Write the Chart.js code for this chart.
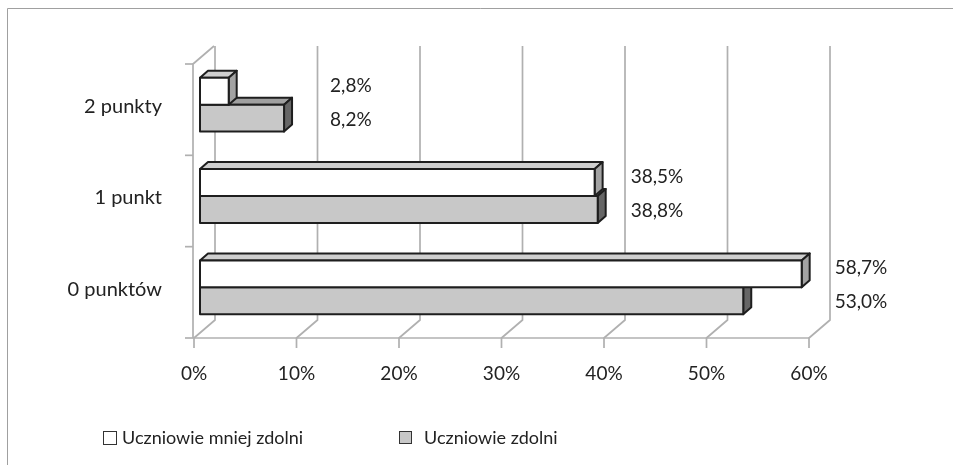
<!DOCTYPE html>
<html>
<head>
<meta charset="utf-8">
<script src="https://cdn.jsdelivr.net/npm/chart.js@4.4.1/dist/chart.umd.min.js"></script>
<style>
html,body{margin:0;padding:0;background:#fff;}
canvas{display:block;}
</style>
</head>
<body>
<canvas id="c" width="953" height="465"></canvas>
<script>
// ---- data ----
const categories = ['2 punkty', '1 punkt', '0 punktów'];
const seriesNames = ['Uczniowie mniej zdolni', 'Uczniowie zdolni'];
const lessAble = [2.8, 38.5, 58.7];
const able = [8.2, 38.8, 53.0];
const xMin = 0, xMax = 60, xStep = 10;

// ---- style ----
const FONT = 'Lato';
const TEXT = '#222222';
const GRID = '#b0b0b0';
const EDGE = '#1e1e1e';
const FRONT = {x: 6, y: -5};
const DEPTH = {x: 8, y: -7};
const WALL = {x: 21, y: -18};
const faces = [
  {front: '#ffffff', top: '#cfcfcf', side: '#a3a3a3'},
  {front: '#c8c8c8', top: '#a0a0a0', side: '#666666'}
];

function fmt(v) { return v.toFixed(1).replace('.', ',') + '%'; }

const threeD = {
  id: 'threeD',
  beforeDraw(chart) {
    const ctx = chart.ctx, ca = chart.chartArea, xs = chart.scales.x;
    ctx.save();
    ctx.fillStyle = '#fff';
    ctx.fillRect(0, 0, chart.width, chart.height);
    // outer frame
    ctx.strokeStyle = '#a0a0a0';
    ctx.lineWidth = 1;
    ctx.beginPath();
    ctx.moveTo(7.5, chart.height);
    ctx.lineTo(7.5, 8.5);
    ctx.lineTo(chart.width, 8.5);
    ctx.stroke();
    // walls and gridlines
    ctx.strokeStyle = GRID;
    ctx.lineWidth = 1.7;
    xs.ticks.forEach(t => {
      const px = xs.getPixelForValue(t.value);
      ctx.beginPath();
      ctx.moveTo(px + WALL.x, ca.top + WALL.y);
      ctx.lineTo(px + WALL.x, ca.bottom + WALL.y);
      ctx.lineTo(px, ca.bottom);
      ctx.lineTo(px, ca.bottom + 10);
      ctx.stroke();
    });
    // floor front edge
    ctx.beginPath();
    ctx.moveTo(ca.left - 1, ca.bottom);
    ctx.lineTo(xs.getPixelForValue(xMax), ca.bottom);
    ctx.stroke();
    // left wall front edge
    ctx.beginPath();
    ctx.moveTo(ca.left - 1, ca.bottom);
    ctx.lineTo(ca.left - 1, ca.top);
    ctx.lineTo(ca.left - 1 + WALL.x, ca.top + WALL.y);
    ctx.stroke();
    // category boundary ticks
    const n = categories.length;
    for (let k = 0; k <= n; k++) {
      const py = ca.top + (ca.bottom - ca.top) * k / n;
      ctx.beginPath();
      ctx.moveTo(ca.left - 9, py);
      ctx.lineTo(ca.left - 1, py);
      ctx.stroke();
    }
    ctx.restore();
  },
  beforeDatasetsDraw(chart) {
    const ctx = chart.ctx;
    ctx.save();
    ctx.lineJoin = 'round';
    ctx.lineWidth = 2;
    ctx.strokeStyle = EDGE;
    for (let i = 0; i < categories.length; i++) {
      for (let d = chart.data.datasets.length - 1; d >= 0; d--) {
        const el = chart.getDatasetMeta(d).data[i];
        const p = el.getProps(['x', 'y', 'base', 'height'], true);
        const l = p.base + FRONT.x, r = p.x + FRONT.x;
        const t = p.y - p.height / 2 + FRONT.y, b = p.y + p.height / 2 + FRONT.y;
        const f = faces[d];
        // top face
        ctx.beginPath();
        ctx.moveTo(l, t); ctx.lineTo(r, t);
        ctx.lineTo(r + DEPTH.x, t + DEPTH.y); ctx.lineTo(l + DEPTH.x, t + DEPTH.y);
        ctx.closePath();
        ctx.fillStyle = f.top; ctx.fill(); ctx.stroke();
        // side face
        ctx.beginPath();
        ctx.moveTo(r, t); ctx.lineTo(r + DEPTH.x, t + DEPTH.y);
        ctx.lineTo(r + DEPTH.x, b + DEPTH.y); ctx.lineTo(r, b);
        ctx.closePath();
        ctx.fillStyle = f.side; ctx.fill(); ctx.stroke();
        // front face
        ctx.beginPath();
        ctx.rect(l, t, r - l, b - t);
        ctx.fillStyle = f.front; ctx.fill(); ctx.stroke();
      }
    }
    ctx.restore();
    return false;
  },
  afterDraw(chart) {
    const ctx = chart.ctx, ys = chart.scales.y;
    ctx.save();
    ctx.fillStyle = TEXT;
    ctx.textBaseline = 'middle';
    ctx.textAlign = 'left';
    // value labels
    ctx.font = '19px ' + FONT;
    const nd = chart.data.datasets.length;
    for (let i = 0; i < categories.length; i++) {
      let maxEnd = -Infinity;
      chart.data.datasets.forEach((ds, d) => {
        maxEnd = Math.max(maxEnd, chart.getDatasetMeta(d).data[i].x);
      });
      const cy = ys.getPixelForValue(i) + FRONT.y - 2;
      const gap = maxEnd - chart.chartArea.left < 150 ? 38 : 25;
      chart.data.datasets.forEach((ds, d) => {
        ctx.fillText(fmt(ds.data[i]), maxEnd + FRONT.x + DEPTH.x + gap, cy + (d - (nd - 1) / 2) * 34);
      });
    }
    // legend
    ctx.font = '18px ' + FONT;
    const items = [
      {box: [103.5, 431.5, 13, 13], tx: 122},
      {box: [399.5, 431.5, 12, 12], tx: 424}
    ];
    chart.data.datasets.forEach((ds, d) => {
      const it = items[d];
      ctx.fillStyle = ds.backgroundColor;
      ctx.fillRect(...it.box);
      ctx.strokeStyle = '#333';
      ctx.lineWidth = 1;
      ctx.strokeRect(...it.box);
      ctx.fillStyle = TEXT;
      ctx.fillText(ds.label, it.tx, 438);
    });
    ctx.restore();
  }
};

new Chart(document.getElementById('c'), {
  type: 'bar',
  data: {
    labels: categories,
    datasets: [
      {label: seriesNames[0], data: lessAble, backgroundColor: faces[0].front, borderColor: EDGE},
      {label: seriesNames[1], data: able, backgroundColor: faces[1].front, borderColor: EDGE}
    ]
  },
  options: {
    indexAxis: 'y',
    responsive: false,
    animation: false,
    events: [],
    categoryPercentage: 0.59,
    barPercentage: 1.0,
    layout: {padding: {top: 64, right: 144, bottom: 0, left: 0}},
    plugins: {legend: {display: false}, tooltip: {enabled: false}},
    scales: {
      x: {
        min: xMin, max: xMax,
        grid: {display: false, drawTicks: false},
        border: {display: false},
        ticks: {stepSize: xStep, padding: 24, color: TEXT, font: {family: FONT, size: 19},
                callback: v => v + '%', maxRotation: 0},
        afterFit: s => { s.height = 127; }
      },
      y: {
        grid: {display: false, drawTicks: false},
        border: {display: false},
        ticks: {padding: 32, labelOffset: -3, color: TEXT, font: {family: FONT, size: 20}},
        afterFit: s => { s.width = 194; }
      }
    }
  },
  plugins: [threeD]
});
</script>
</body>
</html>
